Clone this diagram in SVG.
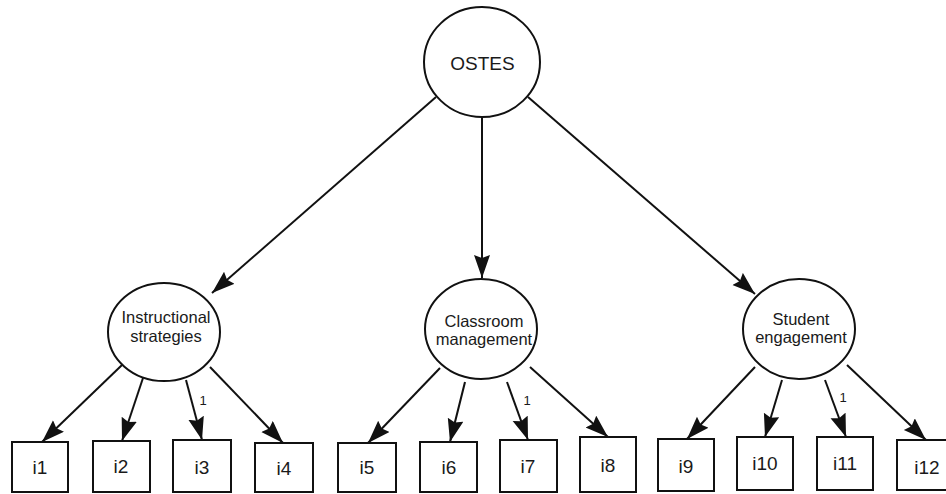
<svg xmlns="http://www.w3.org/2000/svg" width="946" height="494" viewBox="0 0 946 494">
<defs>
<style>
.n{fill:#fff;stroke:#111;stroke-width:2}
.c{stroke:#111;stroke-width:2;fill:none;marker-end:url(#ah)}
.t{font-family:"Liberation Sans",Arial,sans-serif;fill:#1a1a1a;text-anchor:middle}
.lv{font-size:16.5px}
.bx{font-size:19px}
.lb{font-size:13px}
</style>
<marker id="ah" markerUnits="userSpaceOnUse" markerWidth="26" markerHeight="18" refX="23" refY="8" orient="auto">
<path d="M0,0 L23,8 L0,16 L3,8 Z" fill="#111"/>
</marker>
</defs>
<rect width="946" height="494" fill="#fff"/>
<g id="connectors">
<line class="c" x1="436" y1="97" x2="212" y2="293"/>
<line class="c" x1="482" y1="117" x2="482" y2="278"/>
<line class="c" x1="528" y1="97" x2="755" y2="294"/>
<line class="c" x1="122" y1="365" x2="42" y2="442"/>
<line class="c" x1="143" y1="378" x2="122" y2="441"/>
<line class="c" x1="186" y1="380" x2="202" y2="440"/>
<line class="c" x1="210" y1="367" x2="283" y2="443"/>
<line class="c" x1="440" y1="368" x2="368" y2="443"/>
<line class="c" x1="465" y1="382" x2="450" y2="442"/>
<line class="c" x1="507" y1="382" x2="528" y2="440"/>
<line class="c" x1="530" y1="367" x2="608" y2="437"/>
<line class="c" x1="755" y1="367" x2="687" y2="439"/>
<line class="c" x1="782" y1="380" x2="765" y2="437"/>
<line class="c" x1="825" y1="380" x2="846" y2="437"/>
<line class="c" x1="847" y1="365" x2="926" y2="440"/>
<text class="t lb" x="203" y="405">1</text>
<text class="t lb" x="527" y="405">1</text>
<text class="t lb" x="843" y="402">1</text>
</g>
<g id="OSTES">
<ellipse class="n" cx="482" cy="62" rx="58" ry="55"/>
<text class="t" style="font-size:19px" x="482.5" y="70">OSTES</text>
</g>
<g id="instructional">
<ellipse class="n" cx="164" cy="332" rx="56" ry="49"/>
<text class="t lv" x="166" y="323">Instructional</text>
<text class="t lv" x="166" y="342">strategies</text>
</g>
<g id="classroom">
<ellipse class="n" cx="481" cy="329" rx="56" ry="50"/>
<text class="t lv" x="484" y="327">Classroom</text>
<text class="t lv" x="484" y="345">management</text>
</g>
<g id="student">
<ellipse class="n" cx="799" cy="329" rx="56" ry="50"/>
<text class="t lv" x="801" y="325">Student</text>
<text class="t lv" x="801" y="343">engagement</text>
</g>
<g id="i1"><rect class="n" x="12" y="442" width="56" height="50"/><text class="t bx" x="40" y="474">i1</text></g>
<g id="i2"><rect class="n" x="93" y="441" width="57" height="51"/><text class="t bx" x="121" y="473">i2</text></g>
<g id="i3"><rect class="n" x="173" y="440" width="58" height="52"/><text class="t bx" x="202" y="474">i3</text></g>
<g id="i4"><rect class="n" x="255" y="443" width="58" height="49"/><text class="t bx" x="284" y="475">i4</text></g>
<g id="i5"><rect class="n" x="338" y="443" width="58" height="49"/><text class="t bx" x="367" y="474">i5</text></g>
<g id="i6"><rect class="n" x="420" y="442" width="57" height="50"/><text class="t bx" x="449" y="474">i6</text></g>
<g id="i7"><rect class="n" x="500" y="440" width="57" height="52"/><text class="t bx" x="528" y="473">i7</text></g>
<g id="i8"><rect class="n" x="580" y="437" width="56" height="55"/><text class="t bx" x="608" y="472">i8</text></g>
<g id="i9"><rect class="n" x="658" y="439" width="56" height="52"/><text class="t bx" x="686" y="473">i9</text></g>
<g id="i10"><rect class="n" x="737" y="437" width="56" height="53"/><text class="t bx" x="765" y="470">i10</text></g>
<g id="i11"><rect class="n" x="817" y="437" width="56" height="53"/><text class="t bx" x="845" y="470">i11</text></g>
<g id="i12"><rect class="n" x="897" y="440" width="58" height="50"/><text class="t bx" x="927" y="474">i12</text></g>
</svg>
